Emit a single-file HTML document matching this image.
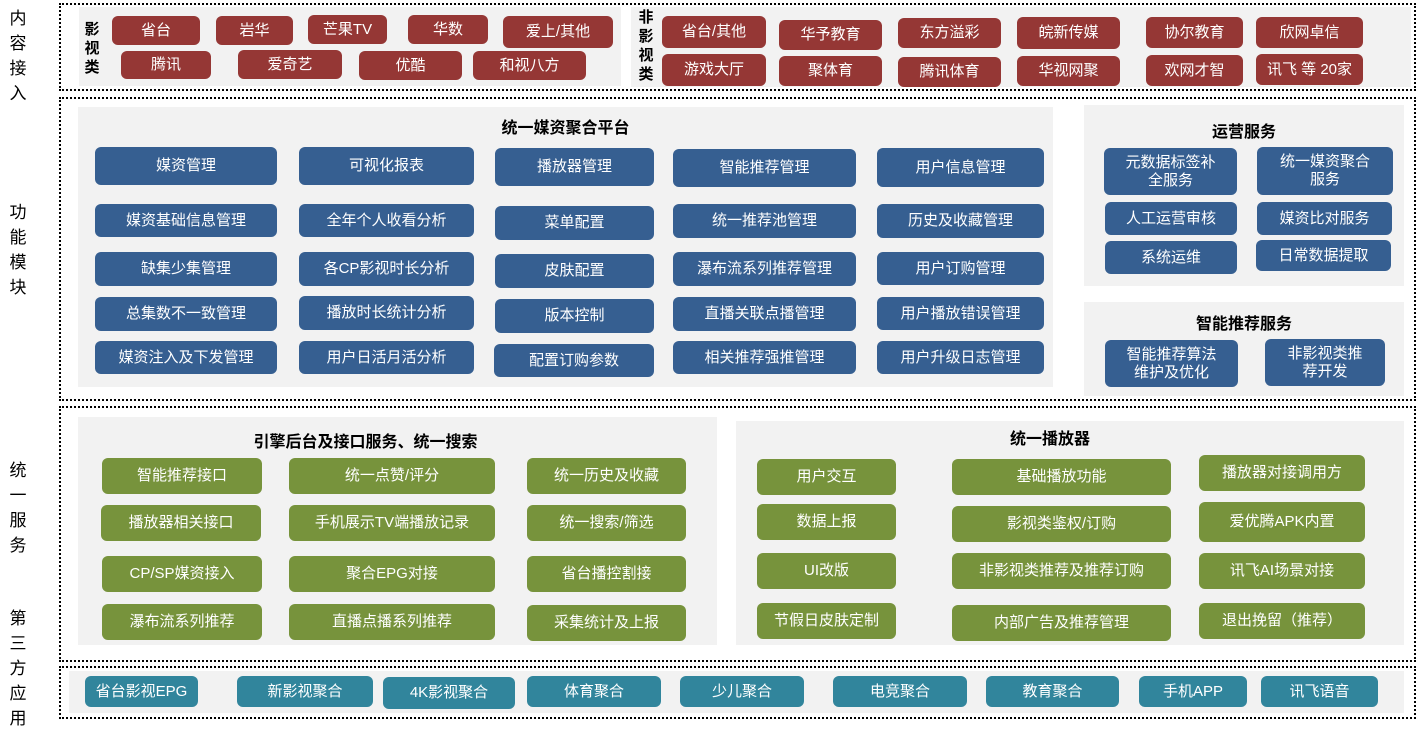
<!DOCTYPE html>
<html><head><meta charset="utf-8"><style>
body{margin:0;width:1418px;height:720px;background:#fff;position:relative;overflow:hidden;font-family:"Liberation Sans","Noto Sans CJK SC",sans-serif}
div{position:absolute;box-sizing:border-box}
.d{border:2px dotted #000}
.g{background:#f2f2f2}
.b{color:#fff;font-size:15px;display:flex;align-items:center;justify-content:center;text-align:center;border-radius:6px;line-height:18px}
.r{background:#953735}.u{background:#365f91}.n{background:#77933c}.t{background:#31859c}
.h{font-weight:bold;font-size:16px;color:#000;text-align:center}
.v{font-size:17px;width:20px;line-height:25px;text-align:center;color:#000}
.vs{font-size:15px;font-weight:bold;width:18px;line-height:19px;text-align:center}
</style></head><body>
<div class="v" style="left:8px;top:6px">内容接入</div>
<div class="v" style="left:8px;top:200px">功能模块</div>
<div class="v" style="left:8px;top:458px">统一服务</div>
<div class="v" style="left:8px;top:606px">第三方应用</div>

<div class="d" style="left:59px;top:3px;width:1357px;height:88px"></div>
<div class="d" style="left:59px;top:97px;width:1357px;height:304px"></div>
<div class="d" style="left:59px;top:406px;width:1357px;height:256px"></div>
<div class="d" style="left:59px;top:666px;width:1357px;height:53px"></div>

<div class="g" style="left:79px;top:7px;width:542px;height:79px"></div>
<div class="g" style="left:631px;top:7px;width:780px;height:80px"></div>
<div class="vs" style="left:83px;top:20px">影视类</div>
<div class="vs" style="left:637px;top:8px">非影视类</div>
<div class="b r" style="left:112px;top:16px;width:88px;height:29px">省台</div>
<div class="b r" style="left:216px;top:16px;width:77px;height:29px">岩华</div>
<div class="b r" style="left:308px;top:15px;width:79px;height:29px">芒果TV</div>
<div class="b r" style="left:408px;top:15px;width:80px;height:29px">华数</div>
<div class="b r" style="left:503px;top:16px;width:110px;height:32px">爱上/其他</div>
<div class="b r" style="left:121px;top:51px;width:90px;height:28px">腾讯</div>
<div class="b r" style="left:238px;top:50px;width:104px;height:29px">爱奇艺</div>
<div class="b r" style="left:359px;top:51px;width:103px;height:29px">优酷</div>
<div class="b r" style="left:473px;top:51px;width:113px;height:29px">和视八方</div>

<div class="b r" style="left:662px;top:16px;width:104px;height:32px">省台/其他</div>
<div class="b r" style="left:779px;top:20px;width:103px;height:30px">华予教育</div>
<div class="b r" style="left:898px;top:18px;width:103px;height:30px">东方溢彩</div>
<div class="b r" style="left:1017px;top:17px;width:103px;height:32px">皖新传媒</div>
<div class="b r" style="left:1146px;top:17px;width:97px;height:31px">协尔教育</div>
<div class="b r" style="left:1256px;top:17px;width:107px;height:31px">欣网卓信</div>
<div class="b r" style="left:662px;top:54px;width:104px;height:32px">游戏大厅</div>
<div class="b r" style="left:779px;top:56px;width:103px;height:30px">聚体育</div>
<div class="b r" style="left:898px;top:57px;width:103px;height:30px">腾讯体育</div>
<div class="b r" style="left:1017px;top:56px;width:103px;height:30px">华视网聚</div>
<div class="b r" style="left:1146px;top:55px;width:97px;height:31px">欢网才智</div>
<div class="b r" style="left:1256px;top:54px;width:107px;height:31px">讯飞 等 20家</div>

<div class="g" style="left:78px;top:107px;width:975px;height:280px"></div>
<div class="h" style="left:78px;top:114px;width:975px">统一媒资聚合平台</div>
<div class="b u" style="left:95px;top:147px;width:182px;height:38px">媒资管理</div>
<div class="b u" style="left:299px;top:147px;width:175px;height:38px">可视化报表</div>
<div class="b u" style="left:495px;top:148px;width:159px;height:38px">播放器管理</div>
<div class="b u" style="left:673px;top:149px;width:183px;height:38px">智能推荐管理</div>
<div class="b u" style="left:877px;top:148px;width:167px;height:39px">用户信息管理</div>
<div class="b u" style="left:95px;top:204px;width:182px;height:33px">媒资基础信息管理</div>
<div class="b u" style="left:299px;top:204px;width:175px;height:33px">全年个人收看分析</div>
<div class="b u" style="left:495px;top:206px;width:159px;height:34px">菜单配置</div>
<div class="b u" style="left:673px;top:204px;width:183px;height:34px">统一推荐池管理</div>
<div class="b u" style="left:877px;top:204px;width:167px;height:34px">历史及收藏管理</div>
<div class="b u" style="left:95px;top:252px;width:182px;height:34px">缺集少集管理</div>
<div class="b u" style="left:299px;top:252px;width:175px;height:34px">各CP影视时长分析</div>
<div class="b u" style="left:495px;top:254px;width:159px;height:34px">皮肤配置</div>
<div class="b u" style="left:673px;top:252px;width:183px;height:34px">瀑布流系列推荐管理</div>
<div class="b u" style="left:877px;top:252px;width:167px;height:33px">用户订购管理</div>
<div class="b u" style="left:95px;top:297px;width:182px;height:34px">总集数不一致管理</div>
<div class="b u" style="left:299px;top:296px;width:175px;height:34px">播放时长统计分析</div>
<div class="b u" style="left:495px;top:299px;width:159px;height:34px">版本控制</div>
<div class="b u" style="left:673px;top:297px;width:183px;height:34px">直播关联点播管理</div>
<div class="b u" style="left:877px;top:297px;width:167px;height:33px">用户播放错误管理</div>
<div class="b u" style="left:95px;top:341px;width:182px;height:33px">媒资注入及下发管理</div>
<div class="b u" style="left:299px;top:341px;width:175px;height:33px">用户日活月活分析</div>
<div class="b u" style="left:494px;top:344px;width:160px;height:33px">配置订购参数</div>
<div class="b u" style="left:673px;top:341px;width:183px;height:33px">相关推荐强推管理</div>
<div class="b u" style="left:877px;top:341px;width:167px;height:33px">用户升级日志管理</div>

<div class="g" style="left:1084px;top:105px;width:320px;height:181px"></div>
<div class="h" style="left:1084px;top:118px;width:320px">运营服务</div>
<div class="b u" style="left:1104px;top:148px;width:133px;height:47px">元数据标签补<br>全服务</div>
<div class="b u" style="left:1257px;top:147px;width:136px;height:48px">统一媒资聚合<br>服务</div>
<div class="b u" style="left:1105px;top:202px;width:132px;height:33px">人工运营审核</div>
<div class="b u" style="left:1257px;top:202px;width:135px;height:33px">媒资比对服务</div>
<div class="b u" style="left:1105px;top:241px;width:132px;height:33px">系统运维</div>
<div class="b u" style="left:1256px;top:240px;width:135px;height:31px">日常数据提取</div>
<div class="g" style="left:1084px;top:302px;width:320px;height:94px"></div>
<div class="h" style="left:1084px;top:310px;width:320px">智能推荐服务</div>
<div class="b u" style="left:1105px;top:340px;width:133px;height:47px">智能推荐算法<br>维护及优化</div>
<div class="b u" style="left:1265px;top:339px;width:120px;height:47px">非影视类推<br>荐开发</div>

<div class="g" style="left:78px;top:417px;width:639px;height:228px"></div>
<div class="h" style="left:78px;top:428px;width:575px">引擎后台及接口服务、统一搜索</div>
<div class="b n" style="left:102px;top:458px;width:160px;height:36px">智能推荐接口</div>
<div class="b n" style="left:289px;top:458px;width:206px;height:36px">统一点赞/评分</div>
<div class="b n" style="left:527px;top:458px;width:159px;height:36px">统一历史及收藏</div>
<div class="b n" style="left:101px;top:505px;width:160px;height:36px">播放器相关接口</div>
<div class="b n" style="left:289px;top:505px;width:206px;height:36px">手机展示TV端播放记录</div>
<div class="b n" style="left:527px;top:505px;width:159px;height:36px">统一搜索/筛选</div>
<div class="b n" style="left:102px;top:556px;width:160px;height:36px">CP/SP媒资接入</div>
<div class="b n" style="left:289px;top:556px;width:206px;height:36px">聚合EPG对接</div>
<div class="b n" style="left:527px;top:556px;width:159px;height:36px">省台播控割接</div>
<div class="b n" style="left:102px;top:604px;width:160px;height:36px">瀑布流系列推荐</div>
<div class="b n" style="left:289px;top:604px;width:206px;height:36px">直播点播系列推荐</div>
<div class="b n" style="left:527px;top:605px;width:159px;height:36px">采集统计及上报</div>

<div class="g" style="left:736px;top:421px;width:668px;height:224px"></div>
<div class="h" style="left:736px;top:425px;width:628px">统一播放器</div>
<div class="b n" style="left:757px;top:459px;width:139px;height:36px">用户交互</div>
<div class="b n" style="left:952px;top:459px;width:219px;height:36px">基础播放功能</div>
<div class="b n" style="left:1199px;top:455px;width:166px;height:36px">播放器对接调用方</div>
<div class="b n" style="left:757px;top:504px;width:139px;height:36px">数据上报</div>
<div class="b n" style="left:952px;top:506px;width:219px;height:36px">影视类鉴权/订购</div>
<div class="b n" style="left:1199px;top:502px;width:166px;height:40px">爱优腾APK内置</div>
<div class="b n" style="left:757px;top:553px;width:139px;height:36px">UI改版</div>
<div class="b n" style="left:952px;top:553px;width:219px;height:36px">非影视类推荐及推荐订购</div>
<div class="b n" style="left:1199px;top:553px;width:166px;height:36px">讯飞AI场景对接</div>
<div class="b n" style="left:757px;top:603px;width:139px;height:36px">节假日皮肤定制</div>
<div class="b n" style="left:952px;top:605px;width:219px;height:36px">内部广告及推荐管理</div>
<div class="b n" style="left:1199px;top:603px;width:166px;height:36px">退出挽留（推荐）</div>

<div class="g" style="left:69px;top:671px;width:1335px;height:42px"></div>
<div class="b t" style="left:85px;top:676px;width:113px;height:31px">省台影视EPG</div>
<div class="b t" style="left:237px;top:676px;width:136px;height:31px">新影视聚合</div>
<div class="b t" style="left:383px;top:677px;width:132px;height:32px">4K影视聚合</div>
<div class="b t" style="left:527px;top:676px;width:134px;height:31px">体育聚合</div>
<div class="b t" style="left:680px;top:676px;width:124px;height:31px">少儿聚合</div>
<div class="b t" style="left:833px;top:676px;width:134px;height:31px">电竞聚合</div>
<div class="b t" style="left:986px;top:676px;width:133px;height:31px">教育聚合</div>
<div class="b t" style="left:1139px;top:676px;width:108px;height:31px">手机APP</div>
<div class="b t" style="left:1261px;top:676px;width:117px;height:31px">讯飞语音</div>
</body></html>
